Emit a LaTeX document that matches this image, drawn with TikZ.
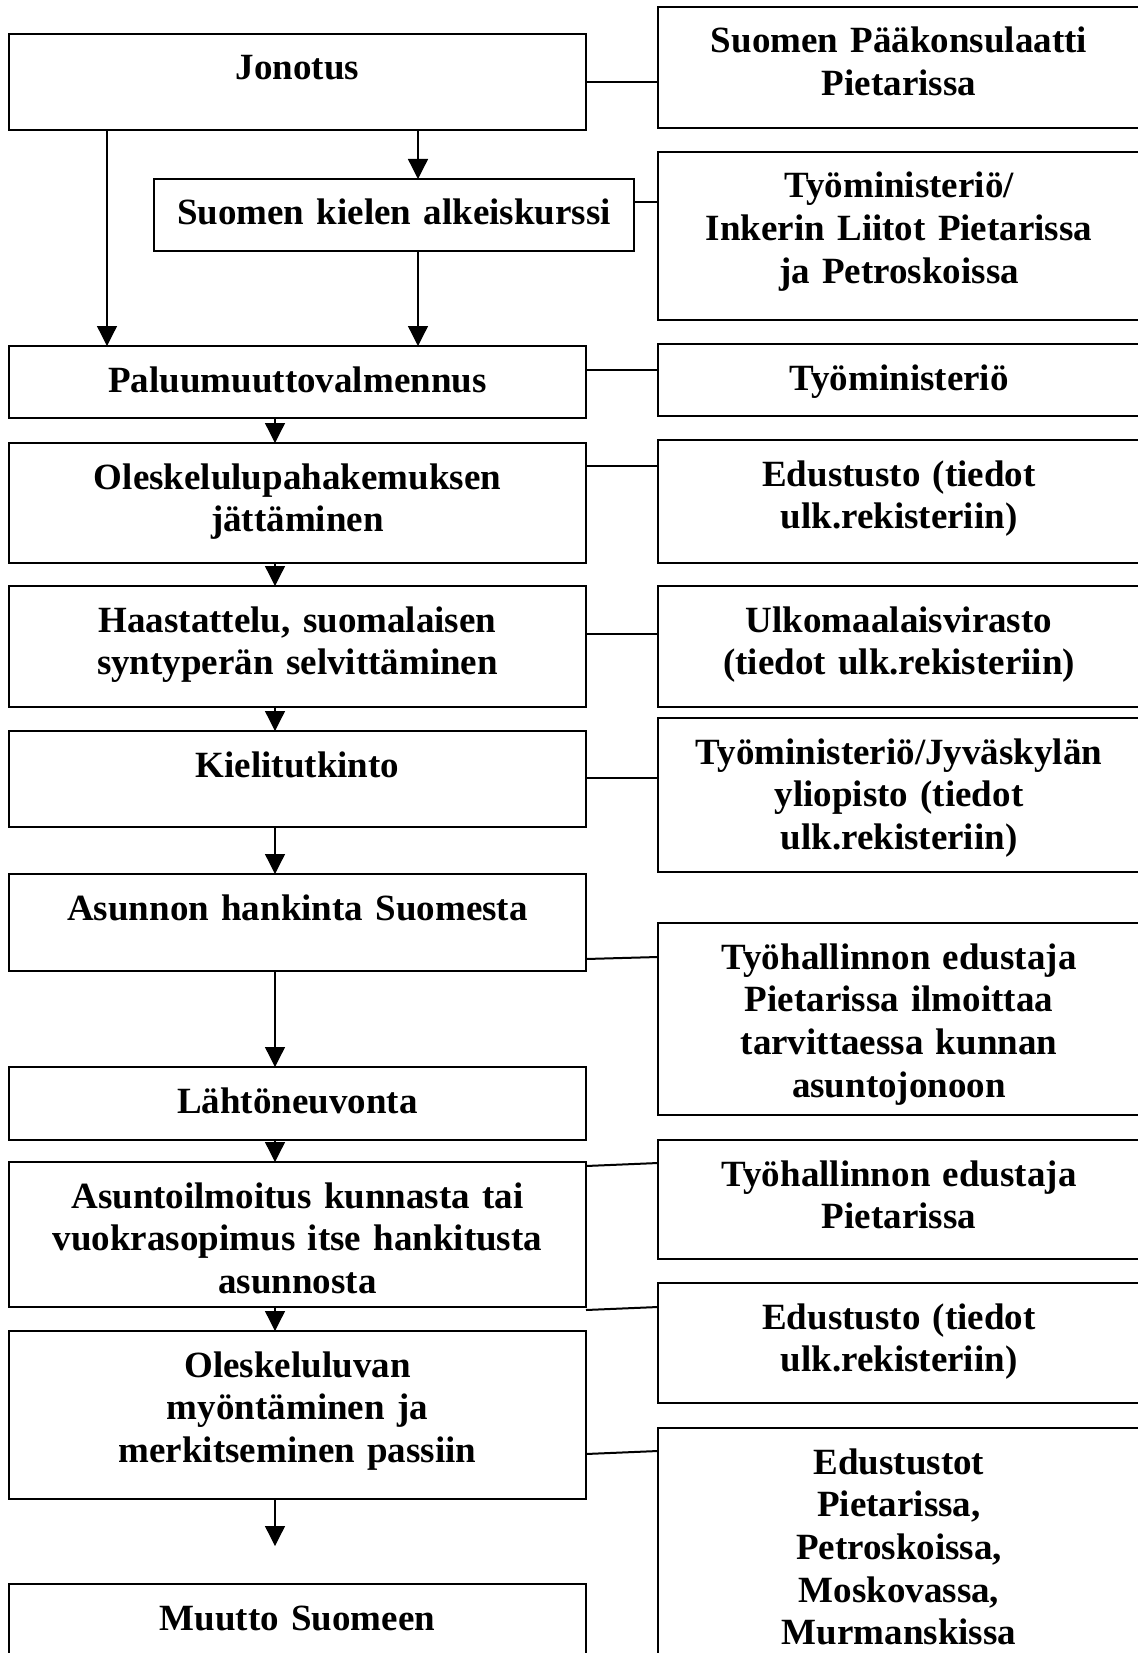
\documentclass[tikz,border=0pt]{standalone}
\usepackage{fontspec}
\setmainfont{Liberation Serif}
\usetikzlibrary{arrows.meta, positioning}

\begin{document}
\begin{tikzpicture}[
    x=1pt, y=-1pt,
    node distance=24pt,
    phase/.style={rectangle, draw=black, line width=2pt, text width=577pt, inner xsep=0pt, inner ysep=0pt, outer sep=0pt, align=center, text height=46pt, font=\bfseries\fontsize{37}{42.7}\selectfont},
    office/.style={phase, text width=482pt},
    arrow/.style={-{Triangle[length=20pt, width=20pt]}, line width=1.3pt},
    link/.style={line width=2pt},
]
\useasboundingbox (0,0) rectangle (1137,1653);

% Left column: steps
\node[phase, text depth=50pt, anchor=north west] (jonotus) at (9,34) {Jonotus};
\node[phase, text width=480pt, text depth=26pt, anchor=north west] (kurssi) at (154,179) {Suomen kielen alkeiskurssi};
\node[phase, text depth=26pt, below=216pt of jonotus] (valmennus) {Paluumuuttovalmennus};
\node[phase, text depth=74pt, below=25pt of valmennus] (hakemus) {Oleskelulupahakemuksen\\jättäminen};
\node[phase, text depth=75pt, below=23pt of hakemus] (haastattelu) {Haastattelu, suomalaisen\\syntyperän selvittäminen};
\node[phase, text depth=50pt, below=24pt of haastattelu] (tutkinto) {Kielitutkinto};
\node[phase, text depth=51pt, below=47pt of tutkinto] (hankinta) {Asunnon hankinta Suomesta};
\node[phase, text depth=27pt, below=96pt of hankinta] (neuvonta) {Lähtöneuvonta};
\node[phase, text depth=99pt, below=22pt of neuvonta] (asuntoilmoitus) {Asuntoilmoitus kunnasta tai\\vuokrasopimus itse hankitusta\\asunnosta};
\node[phase, text depth=122pt, below=24pt of asuntoilmoitus] (luvat) {Oleskeluluvan\\myöntäminen ja\\merkitseminen passiin};
\node[phase, text depth=50pt, below=85pt of luvat] (muutto) {Muutto Suomeen};

% Right column: authorities
\node[office, text depth=75pt, anchor=north west] (konsulaatti) at (658,7) {Suomen Pääkonsulaatti\\Pietarissa};
\node[office, text depth=122pt, below=of konsulaatti] (inkeri) {Työministeriö/\\Inkerin Liitot Pietarissa\\ja Petroskoissa};
\node[office, text depth=26pt, below=of inkeri] (ministerio) {Työministeriö};
\node[office, text depth=77pt, below=of ministerio] (edustusto) {Edustusto (tiedot\\ulk.rekisteriin)};
\node[office, text depth=75pt, below=23pt of edustusto] (virasto) {Ulkomaalaisvirasto\\(tiedot ulk.rekisteriin)};
\node[office, text depth=108pt, below=11pt of virasto] (yliopisto) {Työministeriö/Jyväskylän\\yliopisto (tiedot\\ulk.rekisteriin)};
\node[office, text depth=146pt, below=51pt of yliopisto] (ilmoitus) {Työhallinnon edustaja\\Pietarissa ilmoittaa\\tarvittaessa kunnan\\asuntojonoon};
\node[office, text depth=73pt, below=25pt of ilmoitus] (edustaja) {Työhallinnon edustaja\\Pietarissa};
\node[office, text depth=74pt, below=of edustaja] (edustusto2) {Edustusto (tiedot\\ulk.rekisteriin)};
\node[office, text depth=206pt, below=25pt of edustusto2] (edustustot) {Edustustot\\Pietarissa,\\Petroskoissa,\\Moskovassa,\\Murmanskissa};

% Arrows
\coordinate (kurssiin) at ([xshift=24pt]kurssi.north);
\coordinate (kurssista) at ([xshift=24pt]kurssi.south);
\coordinate (muuttoon) at ([xshift=-22.5pt, yshift=-47pt]luvat.south);
\draw[arrow] ([xshift=98pt]jonotus.south west) -- ([xshift=98pt]valmennus.north west);
\draw[arrow] (kurssiin |- jonotus.south) -- (kurssiin);
\draw[arrow] (kurssista) -- (kurssista |- valmennus.north);
\draw[arrow] ([xshift=-22.5pt]valmennus.south) -- ([xshift=-22.5pt]hakemus.north);
\draw[arrow] ([xshift=-22.5pt]hakemus.south) -- ([xshift=-22.5pt]haastattelu.north);
\draw[arrow] ([xshift=-22.5pt]haastattelu.south) -- ([xshift=-22.5pt]tutkinto.north);
\draw[arrow] ([xshift=-22.5pt]tutkinto.south) -- ([xshift=-22.5pt]hankinta.north);
\draw[arrow] ([xshift=-22.5pt]hankinta.south) -- ([xshift=-22.5pt]neuvonta.north);
\draw[arrow] ([xshift=-22.5pt]neuvonta.south) -- ([xshift=-22.5pt]asuntoilmoitus.north);
\draw[arrow] ([xshift=-22.5pt]asuntoilmoitus.south) -- ([xshift=-22.5pt]luvat.north);
\draw[arrow] ([xshift=-22.5pt]luvat.south) -- (muuttoon);

% Links to authorities
\draw[link] (jonotus.east) -- (jonotus.east -| konsulaatti.west);
\draw[link] ([yshift=13pt]kurssi.east) -- ([yshift=-50pt]inkeri.north west);
\draw[link] ([yshift=12pt]valmennus.east) -- ([yshift=-26pt]ministerio.north west);
\draw[link] ([yshift=37pt]hakemus.east) -- ([yshift=-26pt]edustusto.north west);
\draw[link] ([yshift=12.5pt]haastattelu.east) -- ([yshift=-48pt]virasto.north west);
\draw[link] ([yshift=1pt]tutkinto.east) -- ([yshift=-60pt]yliopisto.north west);
\draw[link] ([yshift=12pt]hankinta.south east) -- ([yshift=-34pt]ilmoitus.north west);
\draw[link] ([yshift=-4pt]asuntoilmoitus.north east) -- ([yshift=-23pt]edustaja.north west);
\draw[link] ([yshift=-3pt]asuntoilmoitus.south east) -- ([yshift=-24pt]edustusto2.north west);
\draw[link] ([yshift=-123pt]luvat.north east) -- ([yshift=-23pt]edustustot.north west);

\end{tikzpicture}
\end{document}
